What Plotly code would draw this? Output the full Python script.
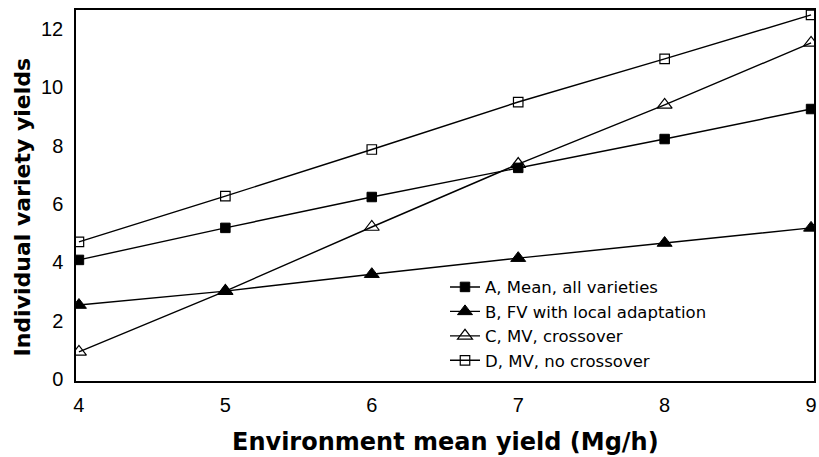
import plotly.graph_objects as go

# Data
env_mean = [4, 5, 6, 7, 8, 9]
series_names = [
    "A, Mean, all varieties",
    "B, FV with local adaptation",
    "C, MV, crossover",
    "D, MV, no crossover",
]
yield_A = [4.08, 5.18, 6.24, 7.24, 8.23, 9.26]
yield_B = [2.53, 3.01, 3.59, 4.14, 4.66, 5.18]
yield_C = [0.92, 3.01, 5.21, 7.37, 9.40, 11.53]
yield_D = [4.70, 6.27, 7.87, 9.50, 10.98, 12.49]
x_ticks = [4, 5, 6, 7, 8, 9]
y_ticks = [0, 2, 4, 6, 8, 10, 12]
x_title = "Environment mean yield (Mg/h)"
y_title = "Individual variety yields"

styles = [
    dict(symbol="square", size=9.5, color="black", line=dict(color="black", width=1)),
    dict(symbol="triangle-up", size=13, color="black", line=dict(color="black", width=1)),
    dict(symbol="triangle-up-open", size=13, color="black", line=dict(color="black", width=1.2)),
    dict(symbol="square-open", size=9.5, color="black", line=dict(color="black", width=1.2)),
]

fig = go.Figure()
for name, ys, mk in zip(series_names, [yield_A, yield_B, yield_C, yield_D], styles):
    fig.add_trace(go.Scatter(
        x=env_mean, y=ys, name=name, mode="lines+markers",
        line=dict(color="black", width=1.4),
        marker=mk, hoverinfo="skip",
    ))

FONT = "Liberation Sans, Arial, Helvetica, sans-serif"
WIDE = "DejaVu Sans, Verdana, sans-serif"

fig.update_layout(
    width=819, height=457,
    margin=dict(l=76, r=5, t=10, b=76, autoexpand=False),
    plot_bgcolor="white", paper_bgcolor="white",
    font=dict(family=FONT, color="black"),
    showlegend=True,
    hovermode=False,
    legend=dict(
        x=0.50, y=0.30, xanchor="left", yanchor="top",
        bgcolor="rgba(0,0,0,0)", font=dict(size=16.5, family=WIDE),
        tracegroupgap=0, itemwidth=30,
    ),
    xaxis=dict(
        range=[3.98, 9.02], tickvals=x_ticks, ticks="", showgrid=False, zeroline=False,
        showline=True, mirror=True, linecolor="black", linewidth=1.5,
        tickfont=dict(size=20, family=FONT), ticklabelstandoff=5, automargin=False,
        ticklabeloverflow="allow",
    ),
    yaxis=dict(
        range=[-0.077, 12.66], tickvals=y_ticks, ticks="", showgrid=False, zeroline=False,
        showline=True, mirror=True, linecolor="black", linewidth=1.5,
        tickfont=dict(size=20, family=FONT), ticklabelstandoff=7, automargin=False,
    ),
    annotations=[
        dict(text="<b>" + x_title + "</b>", xref="paper", yref="paper", x=0.5, y=0,
             xanchor="center", yanchor="middle", yshift=-61, showarrow=False,
             font=dict(size=24, family=WIDE, color="black")),
        dict(text="<b>" + y_title + "</b>", xref="paper", yref="paper", x=0, y=0.5,
             xanchor="center", yanchor="middle", xshift=-54, yshift=-12, textangle=-90,
             showarrow=False, font=dict(size=22, family=WIDE, color="black")),
    ],
)

fig.write_html(
    "out.html",
    config={"displayModeBar": False, "staticPlot": False},
    post_script="document.body.style.margin='0';document.body.style.overflow='hidden';",
)
